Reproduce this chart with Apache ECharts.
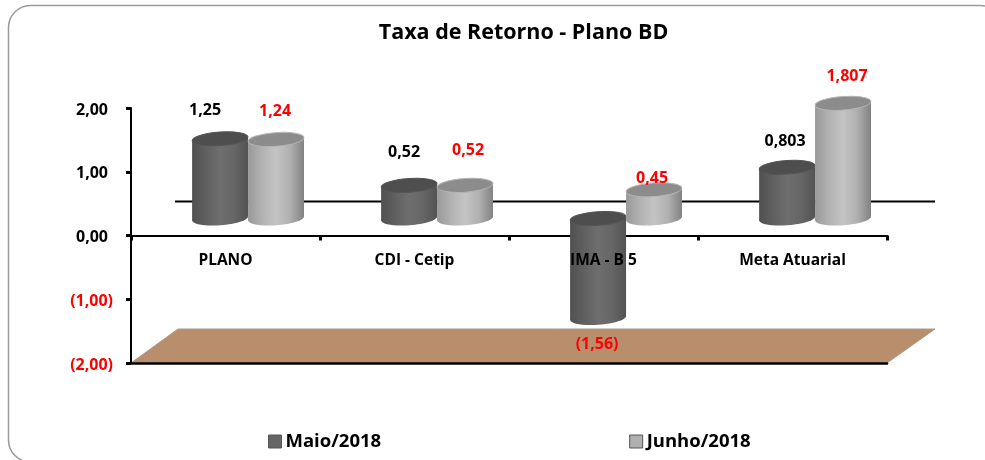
<!DOCTYPE html>
<html>
<head>
<meta charset="utf-8">
<style>html,body{margin:0;padding:0;background:#fff}#c{width:985px;height:460px}</style>
<script src="https://cdn.jsdelivr.net/npm/echarts@6/dist/echarts.min.js"></script>
</head>
<body>
<div id="c"></div>
<script>
const categories = ['PLANO', 'CDI - Cetip', 'IMA - B 5', 'Meta Atuarial'];
const maio = [1.25, 0.52, -1.56, 0.803];
const junho = [1.24, 0.52, 0.45, 1.807];
const maioText = ['1,25', '0,52', '', '0,803'];
const junhoText = ['1,24', '0,52', '0,45', '1,807'];
const negativeText = ['', '', '(1,56)', ''];
const title = 'Taxa de Retorno - Plano BD';
const seriesNames = ['Maio/2018', 'Junho/2018'];

const FONT = '"Open Sans", sans-serif';
const DEPTH_X = 47, DEPTH_Y = 34;
const TILT = 4 * Math.PI / 180, RY = 6.8;
const maioNudge = [[-15, -28], [-5, -33], [0, 0], [-2, -26]];
const junhoNudge = [[-1, -28], [3, -35], [-2, -11], [4, -27]];

function grad(stops) {
  return {type: 'linear', x: 0, y: 0, x2: 1, y2: 0,
    colorStops: stops.map((c, i) => ({offset: i / (stops.length - 1), color: c}))};
}
const palette = [
  {body: grad(['#505050', '#606060', '#6e6e6e', '#666666', '#535353']), top: '#4e4e4e', rim: '#555555', legend: '#666666'},
  {body: grad(['#999999', '#b2b2b2', '#c4c4c4', '#b0b0b0', '#828282']), top: '#8c8c8c', rim: '#b4b4b4', legend: '#b0b0b0'}
];

function cylinder(seriesIdx, texts, nudges) {
  return function (params, api) {
    const i = api.value(0), v = api.value(1);
    const band = api.size([1, 0])[0];
    const rx = band * 0.148;
    const center = api.coord([i, 0]);
    const cx = center[0] + DEPTH_X * 0.48 + (seriesIdx === 0 ? -rx : rx);
    const y0 = center[1] - DEPTH_Y / 2;
    const yv = api.coord([i, v])[1] - DEPTH_Y / 2;
    const yTop = Math.min(y0, yv), yBot = Math.max(y0, yv);
    const lift = rx * Math.sin(TILT);
    const p = palette[seriesIdx];
    const children = [
      {type: 'ellipse', x: cx, y: yBot, rotation: TILT, shape: {cx: 0, cy: 0, rx: rx, ry: RY}, style: {fill: p.body}},
      {type: 'polygon', shape: {points: [[cx - rx, yTop + lift], [cx + rx, yTop - lift], [cx + rx, yBot - lift], [cx - rx, yBot + lift]]}, style: {fill: p.body}},
      {type: 'ellipse', x: cx, y: yTop, rotation: TILT, shape: {cx: 0, cy: 0, rx: rx, ry: RY}, style: {fill: p.top, stroke: p.rim, lineWidth: 1}}
    ];
    if (texts[i]) {
      children.push({type: 'text', z2: 50, style: {
        x: cx + nudges[i][0], y: yTop + nudges[i][1],
        text: texts[i], fill: seriesIdx === 0 ? '#000' : '#ff0000',
        font: 'bold 16px ' + FONT, textAlign: 'center', textVerticalAlign: 'middle'}});
    }
    return {type: 'group', children};
  };
}

function sceneBack(params, api) {
  const cs = params.coordSys;
  const yBottom = api.coord([0, -2])[1];
  const yZero = api.coord([0, 0])[1];
  const xL = cs.x, xR = cs.x + cs.width;
  return {type: 'group', children: [
    {type: 'polygon', shape: {points: [[xL, yBottom], [xL + DEPTH_X, yBottom - DEPTH_Y], [xR + DEPTH_X + 1, yBottom - DEPTH_Y], [xR, yBottom]]},
      style: {fill: '#b98e6d', stroke: '#a89a8c', lineWidth: 1}},
    {type: 'line', shape: {x1: xL + 44, y1: yZero - DEPTH_Y, x2: xR + DEPTH_X + 1, y2: yZero - DEPTH_Y},
      style: {stroke: '#000', lineWidth: 2}}
  ]};
}

const fmt = v => Math.abs(v).toFixed(2).replace('.', ',');
const yLabel = v => v < 0 ? '{n|(' + fmt(v) + ')}' : '{p|' + fmt(v) + '}';

const chart = echarts.init(document.getElementById('c'), null, {renderer: 'canvas'});
chart.setOption({
  animation: false,
  backgroundColor: '#fff',
  title: {text: title, top: 17, left: 518.5, textAlign: 'center',
    textStyle: {fontFamily: FONT, fontSize: 21.5, fontWeight: 'bold', color: '#000'}},
  grid: {left: 131, right: 98, top: 108, bottom: 97},
  legend: {left: 263, top: 427, itemWidth: 13, itemHeight: 13, itemGap: 248,
    data: seriesNames.map((n, i) => ({name: n, icon: 'rect', itemStyle: {color: palette[i].legend, borderColor: '#555', borderWidth: 1}})),
    textStyle: {fontFamily: FONT, fontSize: 18.5, fontWeight: 'bold', color: '#000', padding: [0, 0, 0, -1]}},
  graphic: [{type: 'rect', z: -1, shape: {x: 8.5, y: 5.5, width: 994, height: 456.5, r: 22},
    style: {fill: '#fff', stroke: '#9a9a9a', lineWidth: 1.5}}],
  xAxis: [
    {type: 'category', data: categories, position: 'bottom', z: 1,
      axisLine: {onZero: true, lineStyle: {color: '#000', width: 2}},
      axisTick: {show: true, length: 5, lineStyle: {color: '#000', width: 3}},
      axisLabel: {show: false}},
    {type: 'category', data: categories, position: 'bottom', z: 1,
      axisLine: {onZero: false, lineStyle: {color: '#000', width: 2.5}},
      axisTick: {show: false}, axisLabel: {show: false}},
    {type: 'category', data: categories, position: 'bottom', offset: -127.5, z: 20,
      axisLine: {show: false, onZero: false},
      axisTick: {show: false},
      axisLabel: {show: true, margin: 17, color: '#000', fontFamily: FONT, fontSize: 15.5, fontWeight: 'bold'}}
  ],
  yAxis: {type: 'value', min: -2, max: 2, interval: 1, z: 1,
    splitLine: {show: false},
    axisLine: {show: true, onZero: false, lineStyle: {color: '#000', width: 2}},
    axisTick: {show: true, length: 5, lineStyle: {color: '#000', width: 3}},
    axisLabel: {margin: 18, fontFamily: FONT, fontSize: 16, fontWeight: 'bold',
      formatter: yLabel,
      rich: {
        p: {color: '#000', fontFamily: FONT, fontSize: 16, fontWeight: 'bold', padding: [4, 5, 0, 0]},
        n: {color: '#ff0000', fontFamily: FONT, fontSize: 16, fontWeight: 'bold', padding: [4, 0, 0, 0]}
      }}},
  series: [
    {type: 'custom', name: 'scene', silent: true, z: 0, clip: false, renderItem: sceneBack, data: [[0, 0]], encode: {x: 0, y: 1}},
    {type: 'custom', name: seriesNames[0], z: 3, clip: false, itemStyle: {color: palette[0].legend},
      renderItem: cylinder(0, maioText, maioNudge), data: maio.map((v, i) => [i, v]), encode: {x: 0, y: 1}},
    {type: 'custom', name: seriesNames[1], z: 4, clip: false, itemStyle: {color: palette[1].legend},
      renderItem: cylinder(1, junhoText, junhoNudge), data: junho.map((v, i) => [i, v]), encode: {x: 0, y: 1}},
    {type: 'custom', name: 'neg', silent: true, z: 5, clip: false,
      renderItem: (params, api) => {
        const i = api.value(0), v = api.value(1);
        const band = api.size([1, 0])[0];
        const pt = api.coord([i, v]);
        return {type: 'text', style: {x: pt[0] - band * 0.148 + DEPTH_X * 0.48 - 1, y: pt[1] + 9,
          text: negativeText[i], fill: '#ff0000', font: 'bold 16px ' + FONT, textAlign: 'center', textVerticalAlign: 'middle'}};
      },
      data: [[2, maio[2]]], encode: {x: 0, y: 1}}
  ]
});
</script>
</body>
</html>
